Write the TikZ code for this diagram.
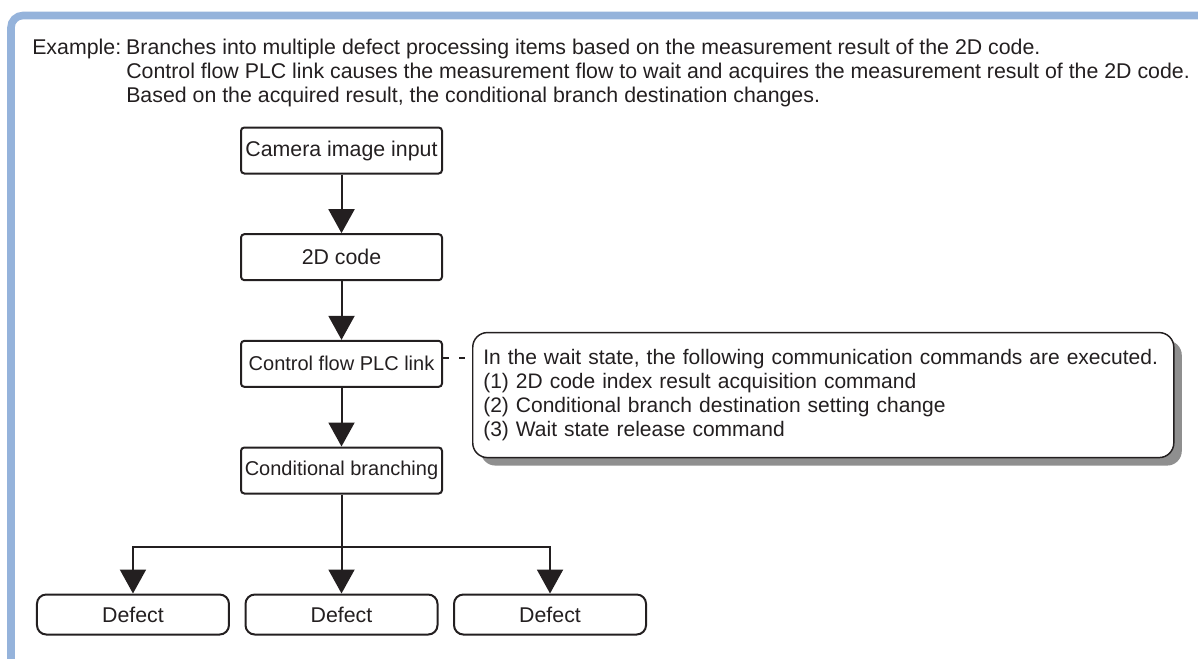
\documentclass[tikz,border=0pt]{standalone}
\usepackage{fontspec}
\setmainfont{Liberation Sans}
\usetikzlibrary{arrows.meta, positioning, calc, shadows}
\definecolor{ink}{HTML}{231F20}
\definecolor{frameBlue}{HTML}{95B3DB}
\definecolor{shd}{HTML}{8F8F8F}
\newcommand{\txt}{\fontsize{16pt}{18pt}\selectfont}
\newcommand{\txtS}{\fontsize{15pt}{18pt}\selectfont}
\newcommand{\txtN}{\fontsize{15.75pt}{18pt}\selectfont}
\tikzset{
  F/.style={draw=ink, line width=1.5pt, rounded corners=2.5pt, minimum width=150.75pt,
    minimum height=34.5pt, font=\txt, text=ink, inner sep=0pt},
  D/.style={draw=ink, line width=1.5pt, rounded corners=7pt, minimum width=144pt,
    minimum height=30pt, font=\txt, text=ink, inner sep=0pt},
  A/.style={-{Triangle[length=18pt,width=19.5pt]}, line width=1.5pt, draw=ink},
  L/.style={line width=1.5pt, draw=ink},
  note/.style={draw=ink, line width=1.1pt, rounded corners=11pt, fill=white,
    text width=510pt, inner xsep=7.9pt, minimum height=93.75pt, align=left,
    font=\txtN, text=ink,
    drop shadow={shadow xshift=6pt, shadow yshift=-6pt, fill=shd, opacity=1}},
}

\begin{document}
\begin{tikzpicture}[x=0.75pt, y=-0.75pt, node distance=44pt]
\useasboundingbox (0,0) rectangle (1198,658);

% ── frame ───────────────────────────────────────────────────────────────────
\draw[frameBlue, line width=5.7pt, rounded corners=9pt] (11,664) -- (11,15.5) -- (1204,15.5);

% ── heading ─────────────────────────────────────────────────────────────────
\node[anchor=north west, align=left, font=\txt, text=ink, inner sep=0pt] (head) at (32,38.5)
  {\makebox[70.5pt][l]{Example:}Branches into multiple defect processing items based on the measurement result of the 2D code.\\
   \hspace*{70.5pt}Control flow PLC link causes the measurement flow to wait and acquires the measurement result of the 2D code.\\
   \hspace*{70.5pt}Based on the acquired result, the conditional branch destination changes.};

% ── flow ────────────────────────────────────────────────────────────────────
\node[F] (cam) at (341.5,150.5) {Camera image input};
\node[F, below=of cam] (code) {2D code};
\node[F, below=of code, font=\txtS] (plc) {Control flow PLC link};
\node[F, below=of plc, font=\txtS] (cond) {Conditional branching};
\draw[A] (cam) -- (code);
\draw[A] (code) -- (plc);
\draw[A] (plc) -- (cond);

% ── wait-state note ─────────────────────────────────────────────────────────
\node[note, anchor=north west] (wait) at ($(plc.north east)+(29,-8)$)
  {In the wait state, the following communication commands are executed.\\
   (1) 2D code index result acquisition command\\
   (2) Conditional branch destination setting change\\
   (3) Wait state release command};
\draw[L, dash pattern=on 4.5pt off 7.5pt] ($(plc.east)+(0,-6)$) -- ($(wait.west |- plc.east)+(0,-6)$);

% ── branches ────────────────────────────────────────────────────────────────
\coordinate[below=39pt of cond] (split);
\node[D, below=74.25pt of cond] (d2) {Defect};
\node[D, left=10.9pt of d2] (d1) {Defect};
\node[D, right=10.9pt of d2] (d3) {Defect};
\draw[L] (cond) -- (split);
\draw[A] (split) -| (d1);
\draw[A] (split) -- (d2);
\draw[A] (split) -| (d3);

\end{tikzpicture}
\end{document}
